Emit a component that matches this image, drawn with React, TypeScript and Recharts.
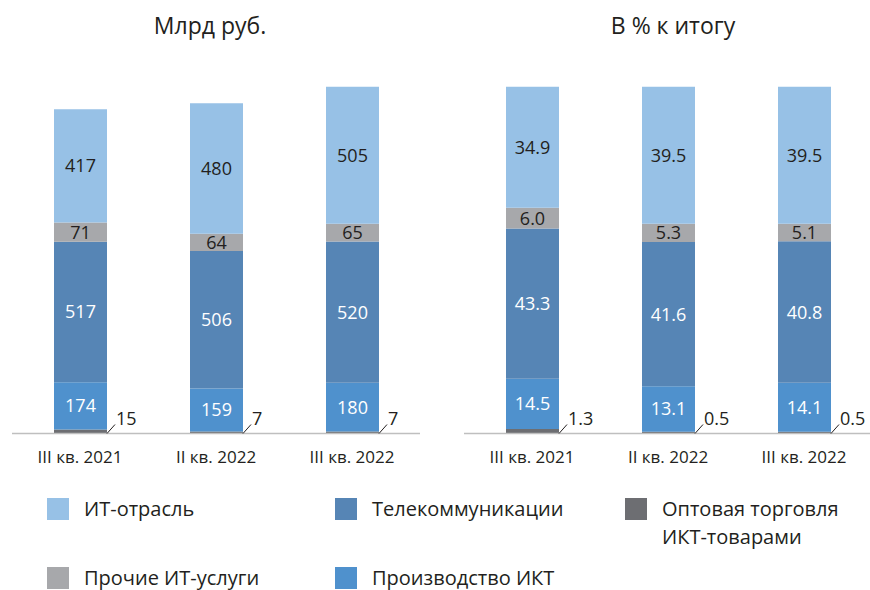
import React from 'react';
import { BarChart, Bar, XAxis, YAxis, LabelList } from 'recharts';

const categories = ['III кв. 2021', 'II кв. 2022', 'III кв. 2022'];

// Млрд руб.
const wholesaleRub = [15, 7, 7];
const productionRub = [174, 159, 180];
const telecomRub = [517, 506, 520];
const otherItRub = [71, 64, 65];
const itIndustryRub = [417, 480, 505];

// В % к итогу
const wholesalePct = [1.3, 0.5, 0.5];
const productionPct = [14.5, 13.1, 14.1];
const telecomPct = [43.3, 41.6, 40.8];
const otherItPct = [6.0, 5.3, 5.1];
const itIndustryPct = [34.9, 39.5, 39.5];

const COLORS = {
  itIndustry: '#97c1e6',
  otherIt: '#a7a8ab',
  telecom: '#5685b5',
  production: '#4f91cd',
  wholesale: '#6d6e72',
};

const TEXT = '#231f20';
const FONT = '"Open Sans", sans-serif';

const buildRows = (w: number[], p: number[], t: number[], o: number[], it: number[]) =>
  categories.map((name, i) => ({
    name,
    wholesale: w[i],
    production: p[i],
    telecom: t[i],
    otherIt: o[i],
    itIndustry: it[i],
  }));

const rubData = buildRows(wholesaleRub, productionRub, telecomRub, otherItRub, itIndustryRub);
const pctData = buildRows(wholesalePct, productionPct, telecomPct, otherItPct, itIndustryPct);

// small bottom segment: value to the right with a short leader line
const SideLabel = (fmt: (v: number) => string) => (props: any) => {
  const { x, y, width, height, value } = props;
  const bx = Number(x) + Number(width);
  const by = Number(y) + Number(height);
  return (
    <g>
      <line x1={bx} y1={by} x2={bx + 8} y2={by - 9} stroke={TEXT} strokeWidth={1} />
      <text x={bx + 9} y={by - 9} fill={TEXT} fontSize={18} fontFamily={FONT}>
        {fmt(Number(value))}
      </text>
    </g>
  );
};

interface PanelProps {
  data: any[];
  left: number;
  width: number;
  margin: { top: number; right: number; bottom: number; left: number };
  domain: [number, number];
  fmt: (v: number) => string;
}

const Panel: React.FC<PanelProps> = ({ data, left, width, margin, domain, fmt }) => (
  <BarChart
    width={width}
    height={590}
    data={data}
    margin={margin}
    barSize={53}
    style={{ position: 'absolute', left, top: 0 }}
  >
    <XAxis
      dataKey="name"
      height={40}
      tickLine={false}
      axisLine={{ stroke: '#bfbfbf', strokeWidth: 1.5 }}
      tick={{ fill: TEXT, fontSize: 17, fontFamily: FONT }}
      tickMargin={11}
    />
    <YAxis hide domain={domain} />
    <Bar dataKey="wholesale" stackId="a" fill={COLORS.wholesale} isAnimationActive={false}>
      <LabelList dataKey="wholesale" content={SideLabel(fmt)} />
    </Bar>
    <Bar dataKey="production" stackId="a" fill={COLORS.production} isAnimationActive={false}>
      <LabelList dataKey="production" position="center" fill="#ffffff" fontSize={18} fontFamily={FONT} formatter={(v: any) => fmt(Number(v))} />
    </Bar>
    <Bar dataKey="telecom" stackId="a" fill={COLORS.telecom} isAnimationActive={false}>
      <LabelList dataKey="telecom" position="center" fill="#ffffff" fontSize={18} fontFamily={FONT} formatter={(v: any) => fmt(Number(v))} />
    </Bar>
    <Bar dataKey="otherIt" stackId="a" fill={COLORS.otherIt} isAnimationActive={false}>
      <LabelList dataKey="otherIt" position="center" fill={TEXT} fontSize={18} fontFamily={FONT} formatter={(v: any) => fmt(Number(v))} />
    </Bar>
    <Bar dataKey="itIndustry" stackId="a" fill={COLORS.itIndustry} isAnimationActive={false}>
      <LabelList dataKey="itIndustry" position="center" fill={TEXT} fontSize={18} fontFamily={FONT} formatter={(v: any) => fmt(Number(v))} />
    </Bar>
  </BarChart>
);

const legendItems = [
  { label: 'ИТ-отрасль', color: COLORS.itIndustry, x: 47, y: 498 },
  { label: 'Телекоммуникации', color: COLORS.telecom, x: 335, y: 498 },
  { label: 'Оптовая торговля\nИКТ-товарами', color: COLORS.wholesale, x: 625, y: 498 },
  { label: 'Прочие ИТ-услуги', color: COLORS.otherIt, x: 47, y: 567 },
  { label: 'Производство ИКТ', color: COLORS.production, x: 335, y: 567 },
];

export default function App() {
  return (
    <div
      style={{
        position: 'absolute',
        left: 0,
        top: 0,
        width: 870,
        height: 590,
        overflow: 'hidden',
        background: '#ffffff',
        fontFamily: FONT,
        color: TEXT,
      }}
    >
      <div style={{ position: 'absolute', left: 110, width: 200, top: 10, textAlign: 'center', fontSize: 23, lineHeight: '30px' }}>
        Млрд руб.
      </div>
      <div style={{ position: 'absolute', left: 573, width: 200, top: 10, textAlign: 'center', fontSize: 23, lineHeight: '30px' }}>
        В % к итогу
      </div>

      <Panel
        data={rubData}
        left={0}
        width={435}
        margin={{ top: 80.5, right: 15, bottom: 116.5, left: 12 }}
        domain={[0, 1300]}
        fmt={(v) => String(v)}
      />
      <Panel
        data={pctData}
        left={435}
        width={437}
        margin={{ top: 86.7, right: 0, bottom: 116.5, left: 29 }}
        domain={[0, 100]}
        fmt={(v) => v.toFixed(1)}
      />

      {legendItems.map((it) => (
        <div key={it.label} style={{ position: 'absolute', left: it.x, top: it.y }}>
          <div style={{ position: 'absolute', left: 0, top: 0, width: 22, height: 22, background: it.color }} />
          <div
            style={{
              position: 'absolute',
              left: 37,
              top: -3,
              fontSize: 20,
              lineHeight: '28px',
              whiteSpace: 'pre',
            }}
          >
            {it.label}
          </div>
        </div>
      ))}
    </div>
  );
}
